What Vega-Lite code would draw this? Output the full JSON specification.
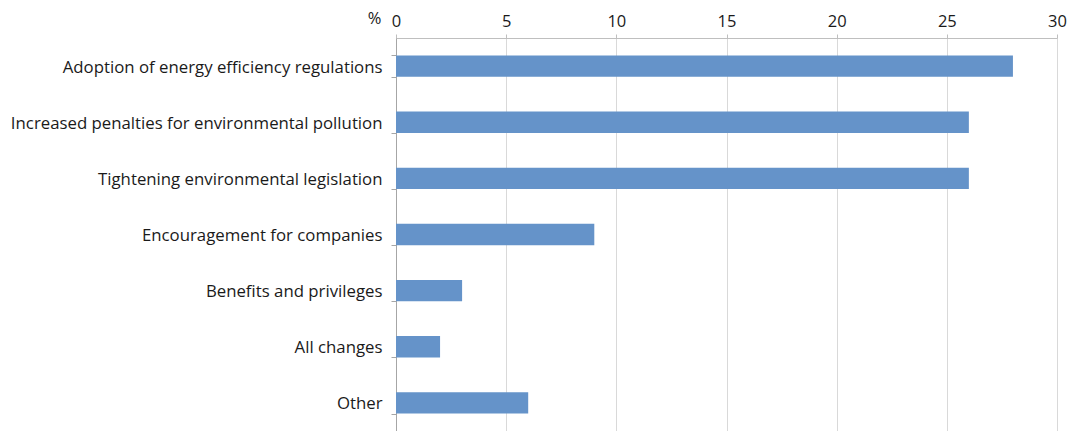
{
  "$schema": "https://vega.github.io/schema/vega-lite/v6.json",
  "autosize": {"type": "none"},
  "width": 661,
  "height": 393,
  "padding": {"left": 396, "top": 38, "right": 10, "bottom": 0},
  "background": "white",
  "config": {"view": {"stroke": null}, "font": "Open Sans"},
  "data": {
    "values": [
      {"category": "Adoption of energy efficiency regulations", "value": 28},
      {"category": "Increased penalties for environmental pollution", "value": 26},
      {"category": "Tightening environmental legislation", "value": 26},
      {"category": "Encouragement for companies", "value": 9},
      {"category": "Benefits and privileges", "value": 3},
      {"category": "All changes", "value": 2},
      {"category": "Other", "value": 6}
    ]
  },
  "mark": {"type": "bar", "color": "#6593C9"},
  "encoding": {
    "y": {
      "field": "category",
      "type": "nominal",
      "sort": null,
      "scale": {"paddingInner": 0.62, "paddingOuter": 0.31},
      "axis": {
        "title": null,
        "domainColor": "#a6a6a6",
        "tickColor": "#a6a6a6",
        "tickBand": "extent",
        "tickSize": 5,
        "labelPadding": 9,
        "labelFont": "Open Sans",
        "labelFontSize": 16.8,
        "labelColor": "#1a1a1a",
        "labelLimit": 420,
        "labelBaseline": "middle",
        "labelOffset": 1
      }
    },
    "x": {
      "field": "value",
      "type": "quantitative",
      "scale": {"domain": [0, 30]},
      "axis": {
        "orient": "top",
        "values": [0, 5, 10, 15, 20, 25, 30],
        "title": "%",
        "titleAngle": 0,
        "titleX": -22,
        "titleY": -20,
        "titleFont": "Open Sans",
        "titleFontSize": 16.5,
        "titleFontWeight": "normal",
        "titleColor": "#1a1a1a",
        "titleBaseline": "middle",
        "domainColor": "#bfbfbf",
        "tickColor": "#bfbfbf",
        "tickSize": 4,
        "gridColor": "#d9d9d9",
        "labelFlush": false,
        "labelFont": "Open Sans",
        "labelFontSize": 16.5,
        "labelColor": "#1a1a1a",
        "labelPadding": 5
      }
    }
  }
}
